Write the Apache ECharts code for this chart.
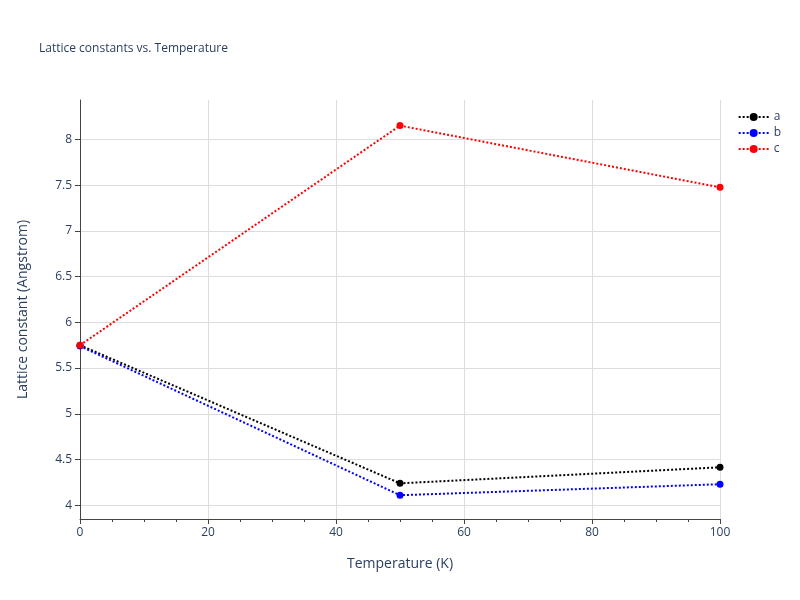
<!DOCTYPE html>
<html><head><meta charset="utf-8">
<script src="https://cdn.jsdelivr.net/npm/echarts@6/dist/echarts.min.js"></script>
<style>html,body{margin:0;padding:0}#c{width:800px;height:600px}</style>
</head><body><div id="c"></div>
<script>
const temps = [0, 50, 100];
const aVals = [5.75, 4.24, 4.415];
const bVals = [5.74, 4.11, 4.23];
const cVals = [5.75, 8.15, 7.475];
const yTicks = [4, 4.5, 5, 5.5, 6, 6.5, 7, 7.5, 8];
const seriesNames = ['a', 'b', 'c'];
const colors = ['#000000', '#0000ff', '#ff0000'];
const txt = '#2a3f5f';
const chart = echarts.init(document.getElementById('c'));
const mk = (name, vals, col) => ({
  name, type: 'line', data: temps.map((t, i) => [t, vals[i]]),
  lineStyle: {color: col, type: [2, 2], width: 2}, itemStyle: {color: col},
  symbol: 'circle', symbolSize: 7, showSymbol: true
});
chart.setOption({
  animation: false,
  title: {text: 'Lattice constants vs. Temperature', left: 34, top: 38,
    textStyle: {fontSize: 12, fontWeight: 'normal', color: txt, fontFamily: 'Open Sans'}},
  legend: {orient: 'vertical', right: 14, top: 106, itemGap: 4, itemWidth: 30, itemHeight: 10,
    textStyle: {color: txt, fontSize: 12, fontFamily: 'Open Sans'}, data: seriesNames},
  grid: {left: 80, right: 80, top: 100, bottom: 81, containLabel: false},
  xAxis: {type: 'value', min: 0, max: 100, interval: 20,
    name: 'Temperature (K)', nameLocation: 'middle', nameGap: 38,
    nameTextStyle: {color: txt, fontSize: 14, fontFamily: 'Open Sans'},
    axisLine: {lineStyle: {color: '#444'}},
    axisTick: {show: true, length: 5, lineStyle: {color: '#444'}},
    minorTick: {show: true, splitNumber: 4, length: 3, lineStyle: {color: '#444'}},
    axisLabel: {color: txt, fontSize: 12, fontFamily: 'Open Sans'},
    splitLine: {show: true, lineStyle: {color: '#dddddd'}}},
  yAxis: {type: 'value', min: 3.85, max: 8.43,
    name: 'Lattice constant (Angstrom)', nameLocation: 'middle', nameGap: 50,
    nameTextStyle: {color: txt, fontSize: 14, fontFamily: 'Open Sans'},
    axisLine: {show: true, lineStyle: {color: '#444'}},
    axisTick: {show: true, length: 5, customValues: yTicks, lineStyle: {color: '#444'}},
    axisLabel: {color: txt, fontSize: 12, fontFamily: 'Open Sans', customValues: yTicks},
    splitLine: {show: true, lineStyle: {color: '#dddddd'}}},
  series: [mk('a', aVals, colors[0]), mk('b', bVals, colors[1]), mk('c', cVals, colors[2])]
});
</script></body></html>
